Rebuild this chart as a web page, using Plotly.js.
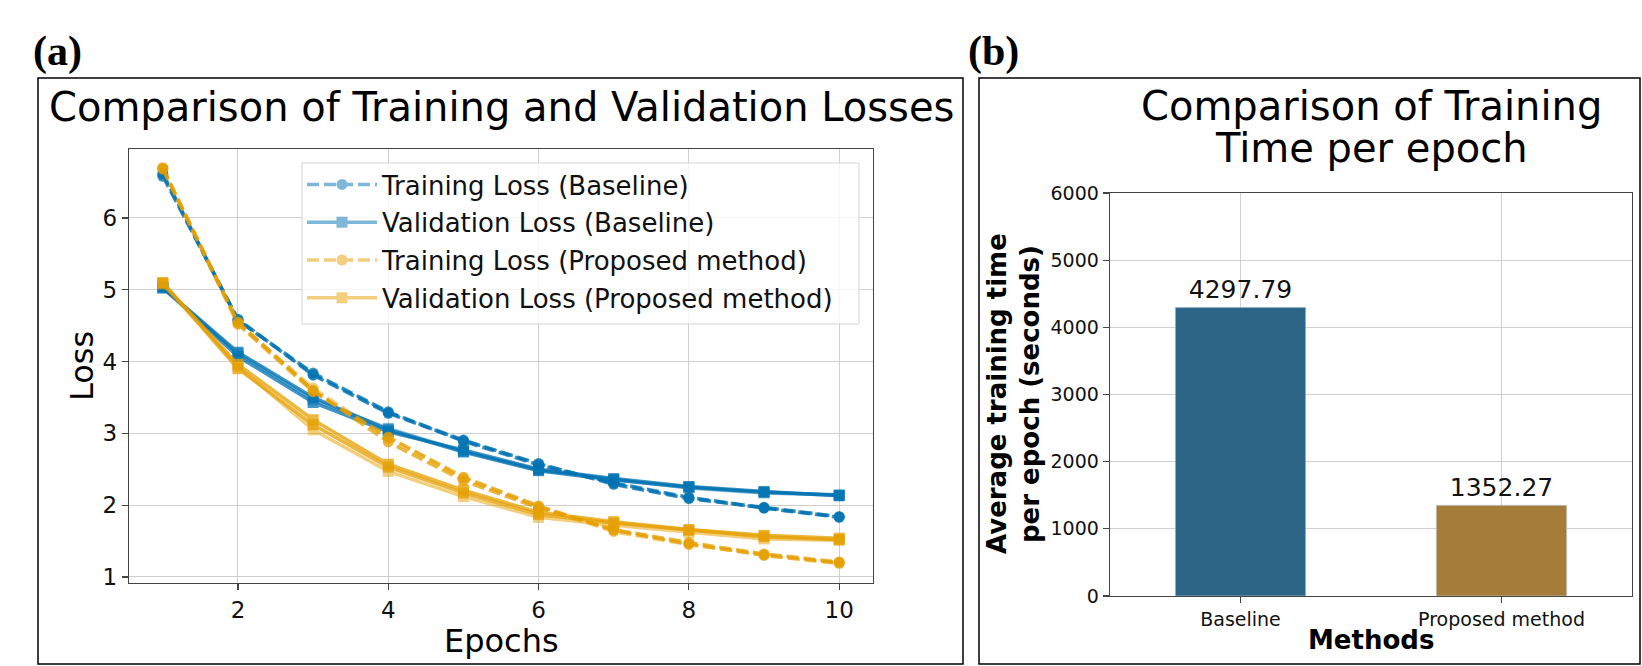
<!DOCTYPE html>
<html>
<head>
<meta charset="utf-8">
<script src="https://cdn.plot.ly/plotly-3.0.1.min.js"></script>
<style>html,body{margin:0;padding:0;background:#fff;}#chart{width:1642px;height:666px;}</style>
</head>
<body>
<div id="chart"></div>
<script>
// ---- data ----
const epochs = [1, 2, 3, 4, 5, 6, 7, 8, 9, 10];
const baselineTrainRuns = [
  [6.60, 4.58, 3.82, 3.29, 2.91, 2.57, 2.30, 2.10, 1.96, 1.84],
  [6.62, 4.57, 3.84, 3.30, 2.89, 2.56, 2.31, 2.11, 1.96, 1.83],
  [6.58, 4.59, 3.81, 3.28, 2.90, 2.58, 2.29, 2.09, 1.97, 1.84]
];
const baselineValRuns = [
  [5.02, 4.11, 3.47, 3.07, 2.75, 2.49, 2.36, 2.24, 2.17, 2.14],
  [5.04, 4.07, 3.43, 3.02, 2.77, 2.50, 2.37, 2.26, 2.19, 2.13],
  [5.03, 4.13, 3.50, 3.05, 2.74, 2.48, 2.35, 2.25, 2.18, 2.14]
];
const proposedTrainRuns = [
  [6.69, 4.53, 3.63, 2.93, 2.37, 1.98, 1.63, 1.45, 1.31, 1.20],
  [6.70, 4.55, 3.60, 2.88, 2.34, 1.96, 1.66, 1.48, 1.32, 1.21],
  [6.68, 4.52, 3.58, 2.95, 2.39, 1.99, 1.65, 1.46, 1.30, 1.19]
];
const proposedValRuns = [
  [5.08, 3.93, 3.05, 2.47, 2.12, 1.83, 1.72, 1.62, 1.53, 1.51],
  [5.10, 3.90, 3.12, 2.53, 2.17, 1.87, 1.75, 1.65, 1.56, 1.52],
  [5.09, 3.96, 3.19, 2.57, 2.21, 1.90, 1.77, 1.66, 1.58, 1.54]
];
const seriesNames = ['Training Loss (Baseline)', 'Validation Loss (Baseline)',
                     'Training Loss (Proposed method)', 'Validation Loss (Proposed method)'];
const methods = ['Baseline', 'Proposed method'];
const avgTimePerEpoch = [4297.79, 1352.27];
const xTicks = [2, 4, 6, 8, 10];
const yTicksLoss = [1, 2, 3, 4, 5, 6];
const yTicksTime = [0, 1000, 2000, 3000, 4000, 5000, 6000];

// ---- style ----
const W = 1642, H = 666;
const px = x => x / W, py = y => 1 - y / H;
const BLUE = '#0072B2', ORANGE = '#E69F00';
const FONT = 'DejaVu Sans, sans-serif';

const traces = [];
const seriesDefs = [
  {runs: baselineTrainRuns, color: BLUE, dash: '12px,5px', symbol: 'circle', size: 11},
  {runs: baselineValRuns, color: BLUE, dash: 'solid', symbol: 'square', size: 11},
  {runs: proposedTrainRuns, color: ORANGE, dash: '12px,5px', symbol: 'circle', size: 11},
  {runs: proposedValRuns, color: ORANGE, dash: 'solid', symbol: 'square', size: 11}
];
seriesDefs.forEach((s, i) => {
  s.runs.forEach((run, k) => {
    traces.push({
      type: 'scatter', mode: 'lines+markers', x: epochs, y: run,
      xaxis: 'x', yaxis: 'y',
      name: seriesNames[i], legendgroup: 'g' + i, showlegend: k === 0,
      opacity: k === 0 ? 0.5 : 0.75,
      line: {color: s.color, width: 3.5, dash: s.dash},
      marker: {color: s.color, symbol: s.symbol, size: s.size}
    });
  });
});
traces.push({
  type: 'bar', x: methods, y: avgTimePerEpoch, xaxis: 'x2', yaxis: 'y2',
  width: 0.5, showlegend: false,
  marker: {color: ['#2d6586', '#a67c3a'], line: {color: 'rgba(200,220,235,0.6)', width: 1}},
  texttemplate: '%{y:.2f}', textposition: 'outside', cliponaxis: false,
  textfont: {family: FONT, size: 25, color: '#111'}
});

const axisCommon = {
  showline: true, mirror: true, linecolor: '#444', linewidth: 1.3,
  showgrid: true, gridcolor: '#cfcfcf', gridwidth: 1,
  ticks: 'outside', ticklen: 6, tickcolor: '#444', tickwidth: 1.2,
  zeroline: false, color: '#111'
};

const ann = [];
function A(text, x, y, size, opts) {
  ann.push(Object.assign({text, x: px(x), y: py(y), xref: 'paper', yref: 'paper',
    showarrow: false, xanchor: 'center', yanchor: 'middle',
    font: {family: FONT, size, color: '#000'}}, opts || {}));
}
A('<b>(a)</b>', 57, 51, 42, {font: {family: 'Liberation Serif, serif', size: 42, color: '#000'}});
A('<b>(b)</b>', 994, 51, 42, {font: {family: 'Liberation Serif, serif', size: 42, color: '#000'}});
A('Comparison of Training and Validation Losses', 501, 107, 40);
A('Comparison of Training', 1371, 106, 40);
A('Time per epoch', 1371, 148, 40);
A('Loss', 82, 366, 32, {textangle: -90});
A('Epochs', 501, 641, 32);
A('<b>Average training time</b>', 997, 394, 26, {textangle: -90});
A('<b>per epoch (seconds)</b>', 1030, 394, 26, {textangle: -90});
A('<b>Methods</b>', 1371, 640, 26);

const layout = {
  width: W, height: H, autosize: false,
  margin: {l: 0, r: 0, t: 0, b: 0},
  paper_bgcolor: '#fff', plot_bgcolor: '#fff',
  font: {family: FONT, color: '#111'},
  xaxis: Object.assign({}, axisCommon, {domain: [px(129), px(873)], anchor: 'y',
    range: [0.55, 10.45], tickvals: xTicks, tickfont: {size: 23, family: FONT}}),
  yaxis: Object.assign({}, axisCommon, {domain: [py(583), py(149)], anchor: 'x',
    range: [0.916, 6.96], tickvals: yTicksLoss, tickfont: {size: 23, family: FONT}}),
  xaxis2: Object.assign({}, axisCommon, {domain: [px(1110), px(1632)], anchor: 'y2',
    type: 'category', range: [-0.5, 1.5], tickfont: {size: 19, family: FONT}}),
  yaxis2: Object.assign({}, axisCommon, {domain: [py(596), py(193)], anchor: 'x2',
    range: [0, 6000], tickvals: yTicksTime, tickfont: {size: 19, family: FONT}}),
  legend: {x: px(302), y: py(161), xanchor: 'left', yanchor: 'top',
    bgcolor: 'rgba(0,0,0,0)', borderwidth: 0,
    font: {family: FONT, size: 26, color: '#111'}, traceorder: 'grouped', tracegroupgap: 1,
    itemwidth: 70},
  annotations: ann,
  shapes: [
    {type: 'rect', xref: 'paper', yref: 'paper', x0: px(302), x1: px(859), y0: py(324), y1: py(163),
     fillcolor: 'rgba(255,255,255,0.8)', line: {color: '#d4d4d4', width: 1}, layer: 'above'},
    {type: 'rect', xref: 'paper', yref: 'paper', x0: px(38), x1: px(963), y0: py(664), y1: py(78),
     line: {color: '#000', width: 1.5}},
    {type: 'rect', xref: 'paper', yref: 'paper', x0: px(979), x1: px(1640), y0: py(664), y1: py(78),
     line: {color: '#000', width: 1.5}}
  ]
};

Plotly.newPlot('chart', traces, layout, {staticPlot: true, displayModeBar: false});
</script>
</body>
</html>
